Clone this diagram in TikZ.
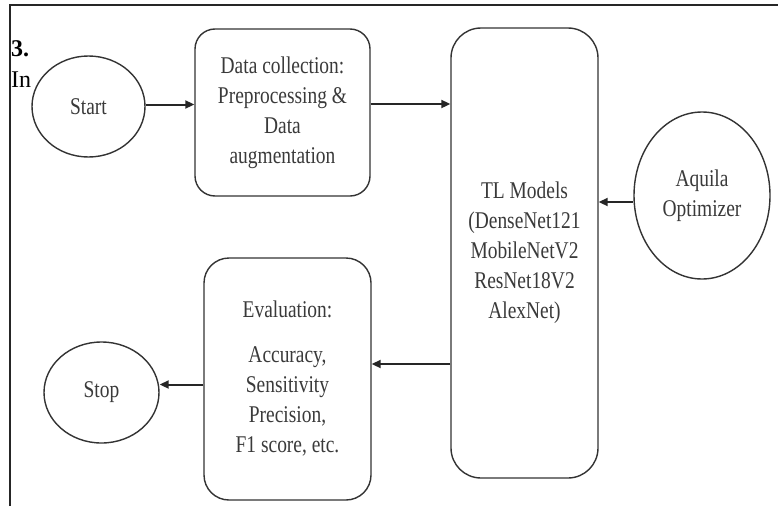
\documentclass[tikz,border=0pt]{standalone}
\usepackage{fontspec}
\setmainfont{Liberation Serif}
\newfontfamily\nar[FakeStretch=0.81]{Liberation Serif}
\usetikzlibrary{arrows.meta,shapes.geometric}
\definecolor{ln}{HTML}{333333}
\definecolor{tx}{HTML}{3A3A3A}
\tikzset{
  base/.style={draw=ln, line width=1.4pt, fill=white, text=tx, align=center, inner sep=0pt,
    font=\nar\fontsize{24}{30}\selectfont},
  oval/.style={base, ellipse},
  rbox/.style={base, rectangle},
  arr/.style={draw=black!85, line width=2pt, -{Triangle[length=9pt,width=8pt]}},
}
\begin{document}
\begin{tikzpicture}[x=1pt,y=-1pt]
\useasboundingbox (0,0) rectangle (778,506);
\fill[white] (0,0) rectangle (778,506);
\draw[line width=1.6pt, black!85] (10,506) -- (10,5) -- (778,5);
\node[anchor=base west, inner sep=0pt, font=\bfseries\fontsize{24}{28}\selectfont] (num) at (11,56) {3.};
\node[anchor=base west, inner sep=0pt, font=\fontsize{24}{28}\selectfont] (intro) at (11,87) {In};

\node[oval, minimum width=113pt, minimum height=101pt] (start) at (88.5,106.5) {Start};
\node[rbox, rounded corners=20pt, minimum width=175pt, minimum height=167pt] (data) at (282.5,112.5)
  {Data collection:\\Preprocessing \&\\Data\\augmentation};
\node[rbox, rounded corners=30pt, minimum width=147pt, minimum height=450pt] (tl) at (524.5,253)
  {TL Models\\(DenseNet121\\MobileNetV2\\ResNet18V2\\AlexNet)};
\node[oval, minimum width=136pt, minimum height=167pt] (aq) at (702,195.5) {Aquila\\Optimizer};
\node[rbox, rounded corners=25pt, minimum width=167pt, minimum height=242pt] (eval) at (287.5,379)
  {Evaluation:\\[15pt]Accuracy,\\Sensitivity\\Precision,\\F1 score, etc.};
\node[oval, minimum width=115pt, minimum height=101pt] (stop) at (101.5,392.5) {Stop};

\draw[arr] ([yshift=2pt]start.east) -- ([yshift=2pt]start.east -| data.west);
\draw[arr] ([yshift=8.5pt]data.east) -- ([yshift=8.5pt]data.east -| tl.west);
\draw[arr] ([yshift=-6.5pt]aq.west) -- ([yshift=-6.5pt]aq.west -| tl.east);
\draw[arr] ([yshift=15pt]eval.east -| tl.west) -- ([yshift=15pt]eval.east);
\draw[arr] ([yshift=8pt]stop.east -| eval.west) -- ([yshift=8pt]stop.east);
\end{tikzpicture}
\end{document}
